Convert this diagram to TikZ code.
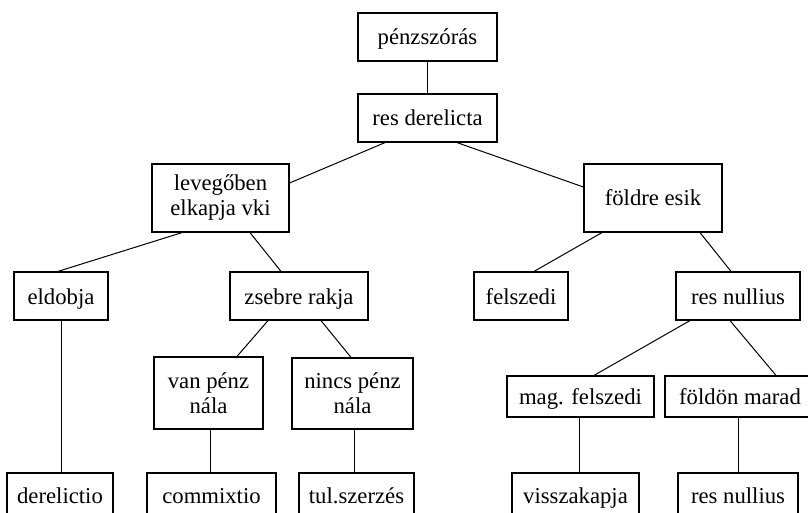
\documentclass[tikz,border=0pt]{standalone}
\usepackage{fontspec}
\setmainfont{Liberation Serif}
\usetikzlibrary{calc}
\begin{document}
\begin{tikzpicture}[x=1pt,y=-1pt,
  box/.style={draw, line width=1.2pt, inner sep=0pt, font=\fontsize{22.7}{25}\selectfont, text height=16pt, text depth=0pt},
  boxtwo/.style={draw, line width=1.2pt, inner sep=0pt, font=\fontsize{22.7}{25}\selectfont, align=center},
  conn/.style={line width=1pt}]
\clip (0,0) rectangle (808,513);
\fill[white] (0,0) rectangle (808,513);
% level 0-1
\node[box, minimum width=139pt, minimum height=48pt] (pz) at (427.5,37) {pénzszórás};
\node[box, minimum width=139pt, minimum height=48pt] (rd) at (427.5,118) {res derelicta};
% level 2
\node[boxtwo, minimum width=137pt, minimum height=68pt] (lev) at (220.5,198) {levegőben\\elkapja vki};
\node[box, minimum width=138pt, minimum height=68pt] (fe) at (653,198) {földre esik};
% level 3
\node[box, minimum width=94pt, minimum height=48pt] (eld) at (61,296) {eldobja};
\node[box, minimum width=138pt, minimum height=48pt] (zs) at (299,296) {zsebre rakja};
\node[box, minimum width=94pt, minimum height=48pt] (fel) at (521,296) {felszedi};
\node[box, minimum width=124pt, minimum height=48pt] (rn) at (738,296) {res nullius};
% level 4
\node[boxtwo, minimum width=109pt, minimum height=72pt] (van) at (208.5,393) {van pénz\\nála};
\node[boxtwo, minimum width=121pt, minimum height=71pt] (nincs) at (352.5,393.5) {nincs pénz\\nála};
\node[box, minimum width=147pt, minimum height=41pt] (mag) at (580.5,396.5) {mag. felszedi};
\node[box, minimum width=150pt, minimum height=41pt] (fm) at (740,396.5) {földön marad};
% level 5
\node[box, minimum width=106pt, minimum height=44pt] (der) at (60,495) {derelictio};
\node[box, minimum width=129pt, minimum height=44pt] (com) at (211.5,495) {commixtio};
\node[box, minimum width=115pt, minimum height=44pt] (tul) at (356.5,495) {tul.szerzés};
\node[box, minimum width=127pt, minimum height=44pt] (vis) at (575.5,495) {visszakapja};
\node[box, minimum width=120pt, minimum height=44pt] (rn2) at (738,495) {res nullius};
% connectors
\draw[conn] (pz.south) -- (rd.north);
\draw[conn] ($(rd.south)+(-42.5,0)$) -- ($(lev.east)+(0,-15)$);
\draw[conn] ($(rd.south)+(29.5,0)$) -- ($(fe.west)+(0,-11)$);
\draw[conn] ($(lev.south)+(-38.5,0)$) -- ($(eld.north)+(-3,0)$);
\draw[conn] ($(lev.south)+(29.5,0)$) -- ($(zs.north)+(-18,0)$);
\draw[conn] ($(fe.south)+(-51,0)$) -- ($(fel.north)+(13,0)$);
\draw[conn] ($(fe.south)+(47,0)$) -- ($(rn.north)+(-7,0)$);
\draw[conn] (eld.south) -- (eld.south |- der.north);
\draw[conn] ($(zs.south)+(-31,0)$) -- ($(van.north)+(28.5,0)$);
\draw[conn] ($(zs.south)+(22,0)$) -- ($(nincs.north)+(-1.5,0)$);
\draw[conn] ($(van.south)+(1.5,0)$) -- ($(van.south |- com.north)+(1.5,0)$);
\draw[conn] ($(nincs.south)+(1.5,0)$) -- ($(nincs.south |- tul.north)+(1.5,0)$);
\draw[conn] ($(rn.south)+(-48,0)$) -- ($(mag.north)+(13.5,0)$);
\draw[conn] ($(rn.south)+(-8,0)$) -- ($(fm.north)+(36,0)$);
\draw[conn] ($(mag.south)+(-1.5,0)$) -- ($(mag.south |- vis.north)+(-1.5,0)$);
\draw[conn] (rn2.north |- fm.south) -- (rn2.north);
\end{tikzpicture}
\end{document}
